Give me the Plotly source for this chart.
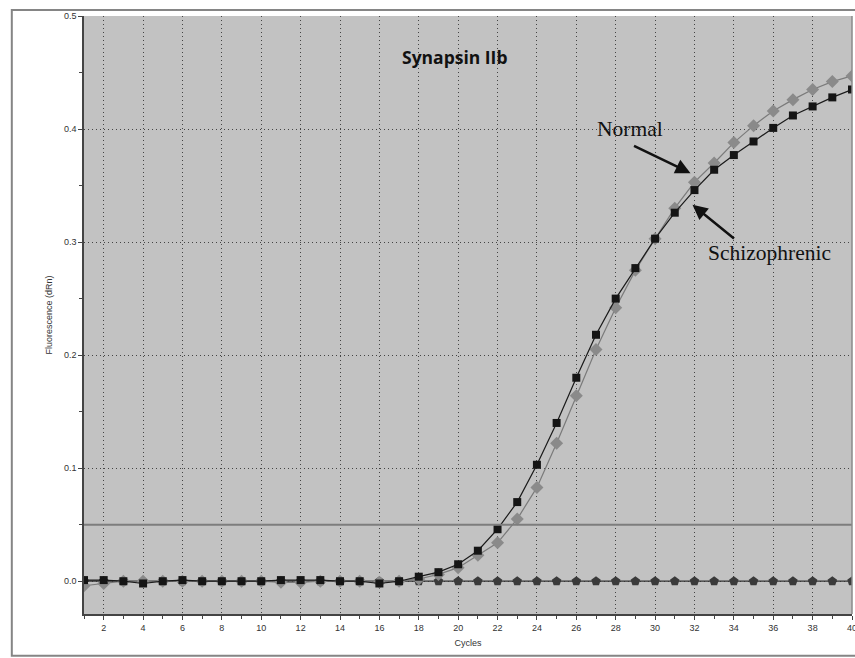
import plotly.graph_objects as go

cycles = list(range(1, 41))
schizophrenic = [0.001, 0.001, 0.000, -0.002, 0.000, 0.001, 0.000, 0.000, 0.000, 0.000,
                 0.001, 0.001, 0.001, 0.000, 0.000, -0.002, 0.000, 0.004, 0.008, 0.015,
                 0.027, 0.046, 0.070, 0.103, 0.140, 0.180, 0.218, 0.250, 0.277, 0.303,
                 0.326, 0.346, 0.364, 0.377, 0.389, 0.401, 0.412, 0.420, 0.428, 0.435]
normal = [-0.004, -0.002, 0.000, 0.000, 0.000, 0.000, 0.000, 0.000, 0.000, 0.000,
          -0.001, -0.001, 0.000, 0.000, 0.000, -0.001, 0.000, 0.002, 0.006, 0.012,
          0.023, 0.034, 0.055, 0.083, 0.122, 0.164, 0.205, 0.242, 0.275, 0.303,
          0.330, 0.353, 0.370, 0.388, 0.403, 0.416, 0.426, 0.435, 0.442, 0.447]
ntc = [0.0] * 40
threshold = 0.05
x_ticks = list(range(2, 41, 2))
y_ticks = [0.0, 0.1, 0.2, 0.3, 0.4, 0.5]

fig = go.Figure()
fig.add_trace(go.Scatter(x=cycles, y=ntc, mode="lines+markers", name="NTC",
                         line=dict(color="#333", width=1.2),
                         marker=dict(symbol="pentagon", size=10, color="#3a3a3a")))
fig.add_trace(go.Scatter(x=cycles, y=normal, mode="lines+markers", name="Normal",
                         line=dict(color="#7a7a7a", width=1.2),
                         marker=dict(symbol="diamond", size=10, color="#8a8a8a")))
fig.add_trace(go.Scatter(x=cycles, y=schizophrenic, mode="lines+markers", name="Schizophrenic",
                         line=dict(color="#1a1a1a", width=1.2),
                         marker=dict(symbol="square", size=8, color="#151515")))
fig.add_hline(y=threshold, line=dict(color="#7d7d7d", width=2))

fig.update_layout(
    width=855, height=658,
    margin=dict(l=84, r=3, t=16, b=44, autoexpand=False),
    paper_bgcolor="white", plot_bgcolor="#c2c2c2",
    showlegend=False,
    font=dict(family="Liberation Sans, Arial", size=9, color="#333"),
    xaxis=dict(range=[1, 40], tickvals=x_ticks, showgrid=True, gridcolor="#444",
               griddash="1px,3px", gridwidth=1, zeroline=False, automargin=False,
               showline=True, linecolor="#444", linewidth=1.5,
               ticks="outside", ticklen=4, tickcolor="#444", ticklabeloverflow="allow",
               minor=dict(dtick=1, tick0=1, ticks="outside", ticklen=3, tickcolor="#444", showgrid=False),
               title=dict(text="Cycles", standoff=8, font=dict(size=9))),
    yaxis=dict(range=[-0.029, 0.5], tickvals=y_ticks, tickformat=".1f", showgrid=True,
               gridcolor="#444", griddash="1px,3px", gridwidth=1, zeroline=False, automargin=False,
               showline=True, linecolor="#444", linewidth=1.5,
               ticks="outside", ticklen=4, tickcolor="#444",
               minor=dict(dtick=0.05, tick0=0, ticks="outside", ticklen=3, tickcolor="#444", showgrid=False),
               title=dict(text="Fluorescence (dRn)", standoff=10, font=dict(size=9))),
)

# outer frame and right border
fig.add_shape(type="rect", xref="paper", yref="paper", x0=-0.094, x1=1.02, y0=-0.07, y1=1.01,
              line=dict(color="#858585", width=2), layer="below")
fig.add_shape(type="line", xref="paper", yref="paper", x0=1, x1=1, y0=0, y1=1,
              line=dict(color="#8a8a8a", width=1.5))

fig.add_annotation(text="<b>Synapsin IIb</b>", xref="paper", yref="paper", x=0.483, y=0.955,
                   showarrow=False, font=dict(family="Open Sans, Noto Sans", size=17.5, color="#111"))

serif = dict(family="Liberation Serif, Times New Roman", size=21.5, color="#111")
fig.add_annotation(text="Normal", x=28.75, y=0.4, xref="x", yref="y", showarrow=False, font=serif)
fig.add_annotation(text="Schizophrenic", x=35.8, y=0.2905, xref="x", yref="y", showarrow=False, font=serif)
fig.add_annotation(text="", x=31.8, y=0.361, ax=-58, ay=-28, xref="x", yref="y",
                   showarrow=True, arrowhead=2, arrowsize=1.2, arrowwidth=2.5, arrowcolor="#111")
fig.add_annotation(text="", x=31.9, y=0.333, ax=43, ay=35, xref="x", yref="y",
                   showarrow=True, arrowhead=2, arrowsize=1.2, arrowwidth=2.5, arrowcolor="#111")

fig.write_html("out.html")
